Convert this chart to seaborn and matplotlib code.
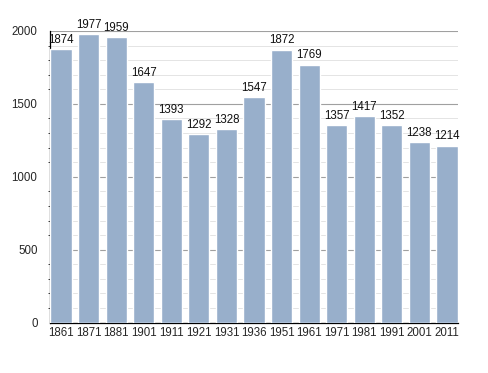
import matplotlib
matplotlib.use("Agg")
import matplotlib.pyplot as plt
from matplotlib.ticker import MultipleLocator
import pandas as pd
import seaborn as sns

years = ["1861", "1871", "1881", "1901", "1911", "1921", "1931", "1936",
         "1951", "1961", "1971", "1981", "1991", "2001", "2011"]
population = [1874, 1977, 1959, 1647, 1393, 1292, 1328, 1547,
              1872, 1769, 1357, 1417, 1352, 1238, 1214]

df = pd.DataFrame({"year": years, "pop": population})

sns.set_style("white")
plt.rcParams["font.family"] = ["Liberation Sans", "DejaVu Sans"]

fig = plt.figure(figsize=(4.88, 3.73), dpi=100)
ax = fig.add_axes([0.1025, 0.135, 0.836, 0.782])

sns.barplot(data=df, x="year", y="pop", color="#98afcb", saturation=1,
            width=0.77, ax=ax, zorder=3)

# value labels
for i, v in enumerate(population):
    ax.text(i, v + 22, str(v), ha="center", va="bottom", fontsize=8.3, color="#111111", zorder=4)

ax.set_ylim(0, 2000)
ax.set_xlim(-0.4, 14.4)
ax.yaxis.set_major_locator(MultipleLocator(500))
ax.yaxis.set_minor_locator(MultipleLocator(100))
ax.grid(which="major", axis="y", color="#a0a0a0", linewidth=0.8, zorder=0)
ax.grid(which="minor", axis="y", color="#e4e4e4", linewidth=0.7, zorder=0)
ax.set_axisbelow(True)

for s in ["top", "right"]:
    ax.spines[s].set_visible(False)
ax.spines["left"].set_color("black")
ax.spines["bottom"].set_color("black")
ax.spines["left"].set_linewidth(0.9)
ax.spines["bottom"].set_linewidth(0.9)

ax.tick_params(axis="y", which="major", length=0, labelsize=8.3, pad=9)
ax.tick_params(axis="y", which="minor", length=1.8, width=0.7, color="#444444", left=True)
ax.tick_params(axis="x", length=0, labelsize=8.3, pad=3)
ax.set_xlabel("")
ax.set_ylabel("")

fig.savefig("out.png", dpi=100)
